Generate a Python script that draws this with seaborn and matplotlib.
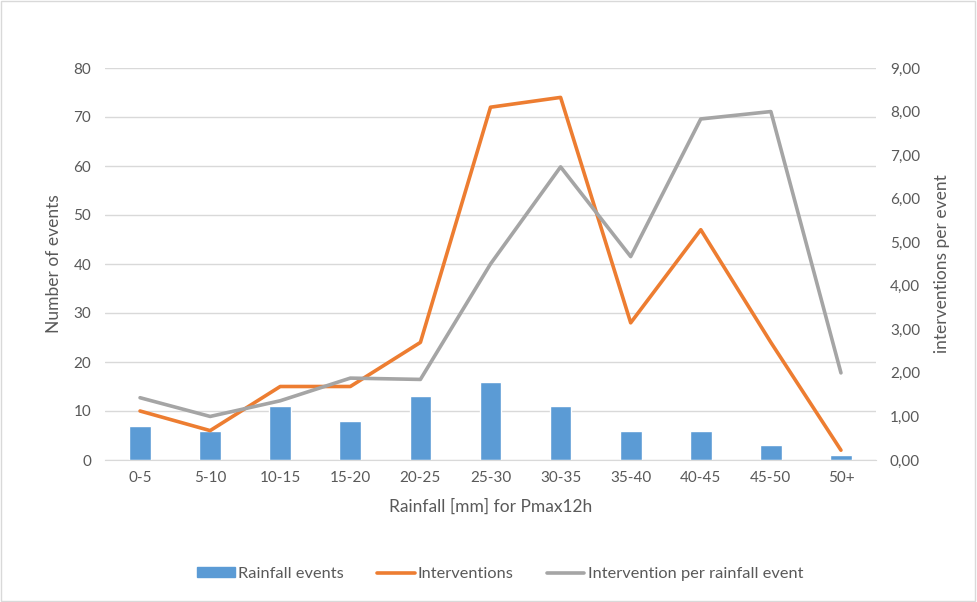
import numpy as np
import pandas as pd
import matplotlib as mpl
import matplotlib.pyplot as plt
from matplotlib.ticker import FuncFormatter, MultipleLocator
from matplotlib.patches import Patch, Rectangle
from matplotlib.lines import Line2D
import seaborn as sns

# data
categories = ["0-5", "5-10", "10-15", "15-20", "20-25", "25-30",
              "30-35", "35-40", "40-45", "45-50", "50+"]
rainfall_events = [7, 6, 11, 8, 13, 16, 11, 6, 6, 3, 1]
interventions = [10, 6, 15, 15, 24, 72, 74, 28, 47, 24, 2]
per_event = [1.43, 1.00, 1.36, 1.88, 1.85, 4.50, 6.73, 4.67, 7.83, 8.00, 2.00]

BLUE = "#5B9BD5"
ORANGE = "#ED7D31"
GRAY = "#A5A5A5"
TEXT = "#595959"
GRID = "#D9D9D9"

sns.set_style("white")
plt.rcParams['font.family'] = ['Lato', 'DejaVu Sans']

df = pd.DataFrame({
    "pos": np.arange(len(categories)),
    "cat": categories,
    "events": rainfall_events,
    "interventions": interventions,
    "ratio": per_event,
})

fig = plt.figure(figsize=(9.77, 6.02), dpi=100)
ax = fig.add_axes([105 / 977, 1 - 460 / 602, (876 - 105) / 977, (460 - 68) / 602])
ax2 = ax.twinx()

sns.barplot(data=df, x="pos", y="events", color=BLUE, width=0.31,
            saturation=1, ax=ax, zorder=2)
sns.lineplot(data=df, x="pos", y="interventions", color=ORANGE, lw=2.6,
             ax=ax, zorder=3, sort=False)
sns.lineplot(data=df, x="pos", y="ratio", color=GRAY, lw=2.6,
             ax=ax2, zorder=3, sort=False)

ax.set_xlim(-0.5, len(categories) - 0.5)
ax.set_ylim(0, 80)
ax2.set_ylim(0, 9)
ax.yaxis.set_major_locator(MultipleLocator(10))
ax2.yaxis.set_major_locator(MultipleLocator(1))
ax2.yaxis.set_major_formatter(FuncFormatter(lambda v, p: f"{v:.2f}".replace(".", ",")))

ax.set_xticks(df["pos"])
ax.set_xticklabels(categories)

ax.grid(axis="y", color=GRID, lw=1, zorder=0)
ax.set_axisbelow(True)
for a in (ax, ax2):
    for s in a.spines.values():
        s.set_visible(False)
    a.tick_params(length=0, labelsize=11, labelcolor=TEXT, pad=10)
ax.spines["bottom"].set_visible(True)
ax.spines["bottom"].set_color(GRID)
ax.tick_params(axis="x", pad=8)

ax.set_xlabel("Rainfall [mm] for Pmax12h", color=TEXT, fontsize=12.5, labelpad=10)
ax.set_ylabel("Number of events", color=TEXT, fontsize=12.5, labelpad=8)
ax2.set_ylabel("interventions per event", color=TEXT, fontsize=12.5, labelpad=10)

handles = [
    Patch(facecolor=BLUE, edgecolor=BLUE),
    Line2D([], [], color=ORANGE, lw=2.6),
    Line2D([], [], color=GRAY, lw=2.6),
]
labels = ["Rainfall events", "Interventions", "Intervention per rainfall event"]
leg = fig.legend(handles, labels, loc="center", bbox_to_anchor=(0.512, 1 - 574 / 602),
                 ncol=3, frameon=False, fontsize=11.8, handlelength=2.3,
                 handleheight=0.55, handletextpad=0.2, columnspacing=2.0)
for t in leg.get_texts():
    t.set_color(TEXT)

fig.patches.append(Rectangle((0.001, 0.002), 0.997, 0.996, transform=fig.transFigure,
                             fill=False, edgecolor=GRID, lw=1))

fig.savefig("out.png", dpi=100)
